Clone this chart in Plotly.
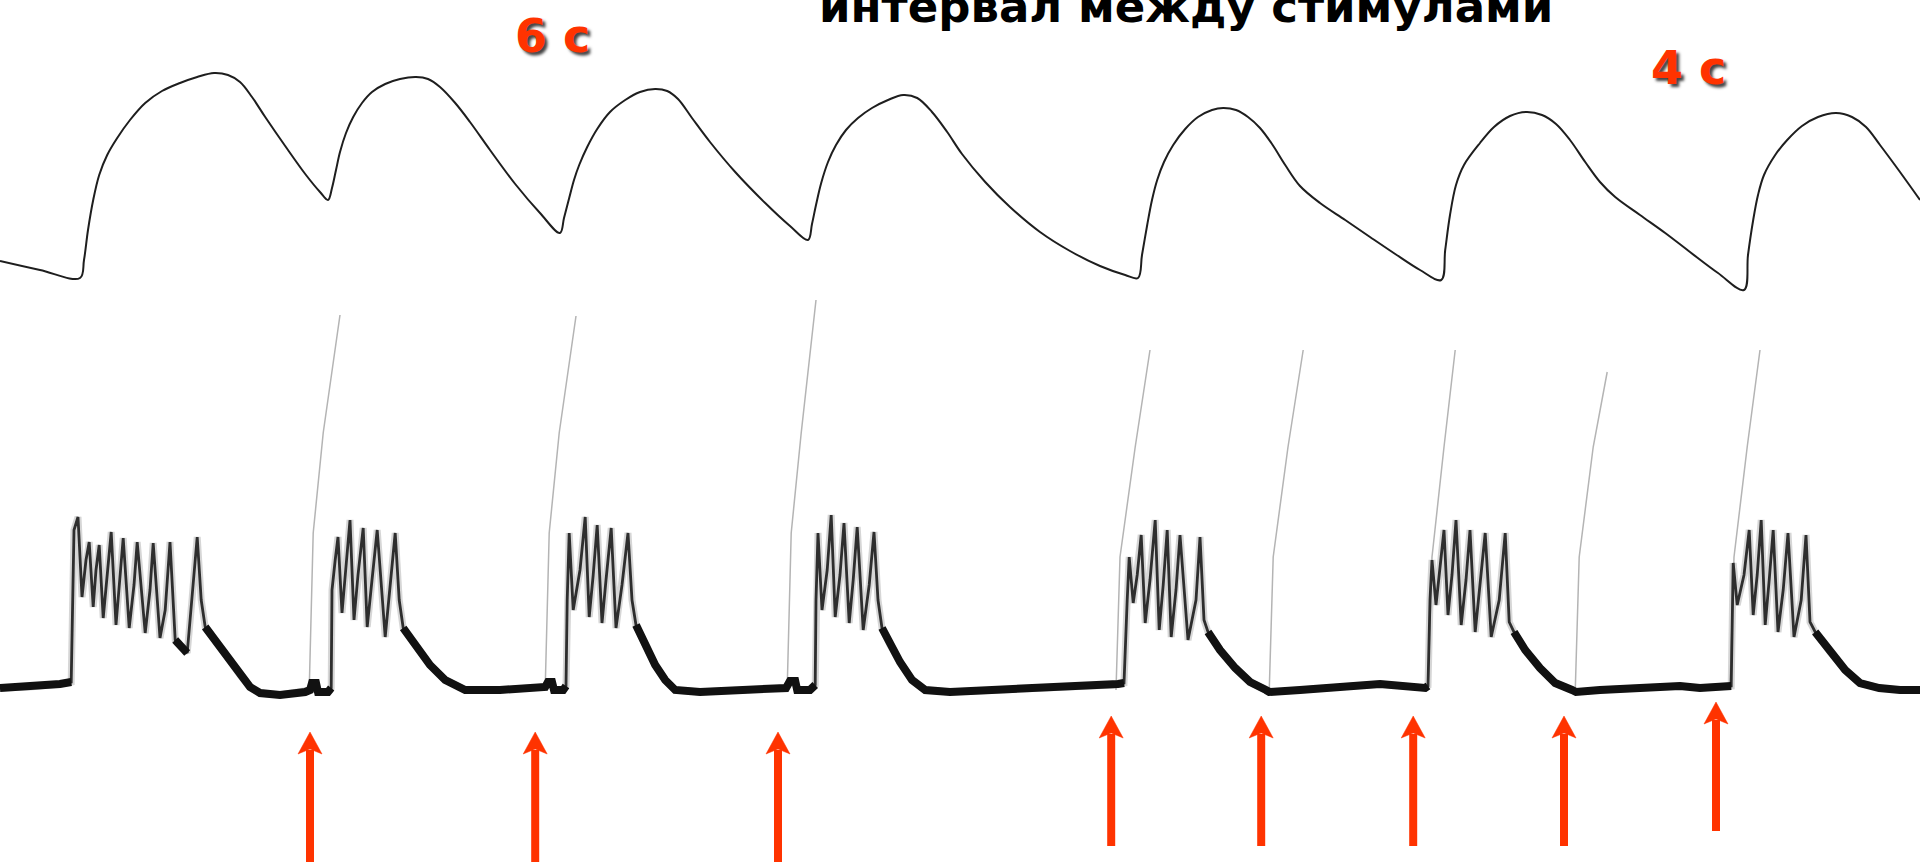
import plotly.graph_objects as go
import numpy as np

# ---------------- data (read from the recording) ----------------
# upper trace: contraction force (arbitrary units) vs time (s)
force_t = [0, 1.0, 2.0,
           2.1, 2.2, 2.33, 2.48, 2.68, 2.93, 3.25, 3.63, 4.05, 4.5, 4.93, 5.35, 5.7, 6.0, 6.3, 6.63, 7.13, 7.65, 8.0, 8.2,
           8.3, 8.4, 8.5, 8.65, 8.83, 9.05, 9.3, 9.63, 10.0, 10.4, 10.7, 11.0, 11.38, 11.75, 12.25, 12.88, 13.5, 14.0,
           14.1, 14.23, 14.35, 14.48, 14.68, 14.93, 15.25, 15.63, 16.0, 16.38, 16.68, 16.95, 17.3, 17.75, 18.38, 19.13,
           19.75, 20.2,
           20.3, 20.4, 20.53, 20.7, 20.9, 21.15, 21.45, 21.8, 22.2, 22.58, 22.93, 23.3, 23.68, 24.05, 24.63, 25.25,
           26.0, 26.75, 27.5, 28.13, 28.45,
           28.55, 28.68, 28.8, 28.93, 29.1, 29.33, 29.63, 29.95, 30.3, 30.58, 30.9, 31.2, 31.5, 31.8, 32.13, 32.5,
           33.0, 33.63, 34.25, 34.88, 35.5, 36.03,
           36.13, 36.25, 36.4, 36.6, 37.0, 37.35, 37.75, 38.15, 38.55, 38.9, 39.25, 39.63, 40.0, 40.38, 41.0, 41.63,
           42.25, 42.95, 43.6,
           43.7, 43.83, 43.95, 44.1, 44.38, 44.68, 45.05, 45.45, 45.9, 46.3, 46.65, 47.0, 47.5, 48.0]
force_v = [2.9, 2.0, 1.2,
           3.0, 6.0, 9.0, 11.5, 13.5, 15.2, 17.0, 18.7, 19.9, 20.7, 21.3, 21.7, 21.5, 20.8, 19.3, 17.3, 14.4, 11.5, 9.8, 9.0,
           10.2, 12.0, 13.8, 15.7, 17.3, 18.7, 19.8, 20.6, 21.1, 21.3, 21.1, 20.3, 18.7, 16.8, 14.0, 10.6, 7.7, 5.7,
           7.2, 9.2, 11.0, 12.5, 14.3, 16.1, 17.8, 19.0, 19.8, 20.1, 19.9, 19.1, 17.2, 14.8, 11.8, 8.7,
           6.4, 5.0,
           6.6, 8.5, 10.7, 12.8, 14.5, 16.0, 17.2, 18.2, 19.0, 19.5, 19.2, 17.8, 15.8, 13.6, 10.8, 8.3,
           5.8, 3.9, 2.4, 1.5, 1.2,
           3.5, 6.5, 9.0, 11.0, 12.8, 14.5, 16.1, 17.3, 18.0, 18.2, 18.0, 17.3, 16.2, 14.6, 12.5, 10.4,
           8.7, 7.0, 5.3, 3.6, 2.0, 1.0,
           4.0, 7.5, 10.5, 12.5, 14.7, 16.3, 17.4, 17.8, 17.5, 16.6, 15.0, 12.8, 10.8, 9.3, 7.5, 5.7,
           3.8, 1.7, 0.0,
           3.5, 7.0, 9.5, 11.5, 13.5, 15.0, 16.4, 17.3, 17.7, 17.3, 16.3, 14.5, 11.8, 9.0]

# lower trace: membrane potential (mV) vs time (s)
memb_t = [0, 0.75, 1.5, 1.78, 1.85, 1.95, 2.05, 2.15, 2.23, 2.33, 2.4, 2.48, 2.58, 2.7, 2.78, 2.9, 3.0, 3.08,
          3.23, 3.35, 3.43, 3.63, 3.75, 3.83, 4.0, 4.13, 4.25, 4.38, 4.68, 4.8, 4.93, 5.03, 5.13, 5.38, 5.63,
          6.0, 6.25, 6.5, 7.0, 7.63, 7.75, 7.8, 7.9, 7.95, 8.2, 8.28,
          8.3, 8.38, 8.45, 8.55, 8.65, 8.75, 8.85, 8.95, 9.08, 9.18, 9.3, 9.43, 9.63, 9.75, 9.88, 9.98, 10.08,
          10.38, 10.75, 11.13, 11.63, 12.5, 13.5, 13.63, 13.7, 13.8, 13.85, 14.08, 14.15,
          14.18, 14.23, 14.33, 14.5, 14.63, 14.73, 14.83, 14.93, 15.05, 15.15, 15.28, 15.4, 15.55, 15.7, 15.8,
          15.9, 16.13, 16.38, 16.63, 16.88, 17.5, 18.5, 19.65, 19.75, 19.88, 19.93, 20.25, 20.38,
          20.4, 20.45, 20.55, 20.68, 20.78, 20.88, 21.0, 21.1, 21.23, 21.33, 21.43, 21.58, 21.73, 21.85, 21.95,
          22.05, 22.25, 22.5, 22.8, 23.13, 23.75, 25.0, 26.5, 27.83,
          27.95, 28.1, 28.18, 28.23, 28.33, 28.43, 28.53, 28.63, 28.75, 28.88, 28.98, 29.08, 29.18, 29.28, 29.4,
          29.5, 29.7, 29.9, 30.0, 30.1, 30.2, 30.5, 30.88, 31.25, 31.65, 31.73, 32.5, 33.75, 34.5, 35.63,
          35.7, 35.75, 35.8, 35.9, 36.0, 36.1, 36.2, 36.3, 36.4, 36.53, 36.65, 36.75, 36.88, 37.0, 37.13, 37.28,
          37.48, 37.63, 37.73, 37.85, 38.13, 38.5, 38.88, 39.3, 39.4, 40.0, 41.0, 42.0, 42.5, 43.2,
          43.28, 43.33, 43.43, 43.6, 43.73, 43.83, 43.93, 44.03, 44.13, 44.23, 44.33, 44.45, 44.58, 44.7, 44.85,
          45.03, 45.15, 45.25, 45.38, 45.75, 46.13, 46.5, 46.98, 47.5, 48.0]
memb_v = [-59, -58.5, -57, -56, 20, 26.5, -13.5, 5, 14, -18.5, 0, 12.5, -24, 0, 19, -27.5, -5, 16,
          -29, -7.5, 14, -31.5, -10, 13.5, -34, -20, 14, -35, -41.5, -15, 16.5, -15, -28.5, -35, -42.5,
          -52.5, -58.5, -61.5, -62.5, -61, -60, -56.5, -56.5, -61, -61, -59,
          -10, 5, 16.5, -21.5, 0, 25, -25, -2.5, 21, -28.5, -5, 20, -33.5, -10, 18.5, -15, -29,
          -37.5, -47.5, -55, -60, -60, -59, -58.5, -56, -56, -60, -60, -58,
          -15, 18.5, -20, 0, 26.5, -23.5, -2.5, 22.5, -26.5, -5, 21, -29, -7.5, 18.5, -15,
          -27.5, -37.5, -47.5, -55, -60, -61, -60, -59, -55.5, -55.5, -60, -60, -57.5,
          -15, 18.5, -20, 0, 27.5, -23.5, -2.5, 23.5, -26.5, -5, 21.5, -30, -7.5, 19, -15,
          -29, -37.5, -46, -55, -60, -61, -60, -59, -57.5,
          -57, -56.5, -15, 6.5, -16.5, -2.5, 17.5, -26.5, -5, 25, -30, -7.5, 20, -33.5, -10,
          17.5, -35, -15, 16.5, -25, -31, -40, -49, -56, -60, -61, -60, -58, -57, -59,
          -58, -15, 5, -17.5, 0, 20, -22.5, -2.5, 25, -27.5, -5, 20, -31, -7.5, 18.5, -33.5,
          -15, 18.5, -26, -31, -40, -49, -56.5, -60, -61, -60, -59, -58, -59, -58,
          -58, 3.5, -17.5, -2.5, 20, -22.5, -2.5, 25, -27.5, -5, 20, -31, -10, 18.5, -33.5,
          -15, 17.5, -26, -31, -41, -50, -56.5, -59, -60, -60]

# stimulus artifacts (thin traces rising from the baseline)
artifact_t = [[7.73, 7.83, 8.08, 8.5], [13.63, 13.73, 13.98, 14.4], [19.68, 19.78, 20.03, 20.4],
              [27.9, 28.0, 28.38, 28.75], [31.73, 31.83, 32.2, 32.58], [35.7, 35.8, 36.1, 36.38],
              [39.38, 39.48, 39.83, 40.18], [43.25, 43.35, 43.68, 44.0]]
artifact_v = [[-60, 18.5, 68.5, 127.5], [-59, 18.5, 68.5, 127], [-59, 18.5, 68.5, 135],
              [-60, 6.5, 61.5, 110], [-61, 6.5, 61.5, 110], [-59, 6.5, 61.5, 110],
              [-61, 6.5, 61.5, 99], [-59, 6.5, 61.5, 110]]

# stimulus markers (red arrows)
stim_t = [7.75, 13.38, 19.45, 27.78, 31.53, 35.33, 39.1, 42.9]
arrow_tip_mv = [-81, -81, -81, -73, -73, -73, -73, -66]
arrow_tail_mv = [-150, -150, -150, -138, -138, -138, -138, -130.5]

title_text = "интервал между стимулами"
interval_labels = ["6 с", "4 с"]
interval_label_t = [13.8, 42.2]

RED = "#FF3300"

# ---------------- figure ----------------
fig = go.Figure()

fig.add_trace(go.Scatter(x=force_t, y=force_v, mode="lines", yaxis="y",
                         line=dict(color="#1e1e1e", width=2, shape="spline", smoothing=1.0),
                         hoverinfo="skip"))

# artifacts
ax_, ay_ = [], []
for tt, vv in zip(artifact_t, artifact_v):
    ax_ += tt + [None]
    ay_ += vv + [None]
fig.add_trace(go.Scatter(x=ax_, y=ay_, mode="lines", yaxis="y2",
                         line=dict(color="#b4b4b4", width=1.5), hoverinfo="skip"))

# membrane potential - blurred pen halo, then the pen line
fig.add_trace(go.Scatter(x=memb_t, y=memb_v, mode="lines", yaxis="y2",
                         line=dict(color="rgba(70,70,70,0.22)", width=7), hoverinfo="skip"))
fig.add_trace(go.Scatter(x=memb_t, y=memb_v, mode="lines", yaxis="y2",
                         line=dict(color="#2e2e2e", width=2.8), hoverinfo="skip"))
# heavy pen on the slow parts
mv = np.array(memb_v, dtype=float)
thick = np.where(mv <= -27, mv, np.nan)
fig.add_trace(go.Scatter(x=memb_t, y=thick, mode="lines", yaxis="y2", connectgaps=False,
                         line=dict(color="#111111", width=8), hoverinfo="skip"))

# arrows
HEAD_H = 11.0   # mV
HEAD_W = 0.3    # s (half width)
sx, sy, hx, hy = [], [], [], []
for t, tip, tail in zip(stim_t, arrow_tip_mv, arrow_tail_mv):
    sx += [t, t, None]
    sy += [tail, tip - HEAD_H + 2, None]
    hx += [t, t - HEAD_W, t, t + HEAD_W, t, None]
    hy += [tip, tip - HEAD_H, tip - HEAD_H + 2.5, tip - HEAD_H, tip, None]
fig.add_trace(go.Scatter(x=sx, y=sy, mode="lines", yaxis="y2",
                         line=dict(color=RED, width=8), hoverinfo="skip"))
fig.add_trace(go.Scatter(x=hx, y=hy, mode="lines", yaxis="y2", fill="toself", fillcolor=RED,
                         line=dict(color=RED, width=0.5), hoverinfo="skip"))

# texts
fig.add_annotation(text=title_text, x=29.65, xref="x", y=0.993, yref="paper",
                   xanchor="center", yanchor="middle", showarrow=False,
                   font=dict(family="DejaVu Sans", size=45, color="black", weight="bold"))
label_y = [0.9577, 0.9211]
for lab, lt, ly in zip(interval_labels, interval_label_t, label_y):
    fig.add_annotation(text=lab, x=lt, xref="x", y=ly, yref="paper",
                       xanchor="center", yanchor="middle", showarrow=False,
                       font=dict(family="DejaVu Sans", size=46, color=RED, weight="bold",
                                 shadow="3px 3px 3px #444"))

fig.update_layout(
    width=1920, height=862,
    margin=dict(l=0, r=0, t=0, b=0),
    paper_bgcolor="white", plot_bgcolor="white",
    showlegend=False,
    xaxis=dict(range=[0, 48], visible=False, fixedrange=True),
    yaxis=dict(range=[-57.2, 29], visible=False, fixedrange=True),
    yaxis2=dict(range=[-146, 285], visible=False, overlaying="y", fixedrange=True),
)

fig.write_html("out.html", config={"displayModeBar": False},
               post_script="document.body.style.margin='0';document.body.style.overflow='hidden';")
